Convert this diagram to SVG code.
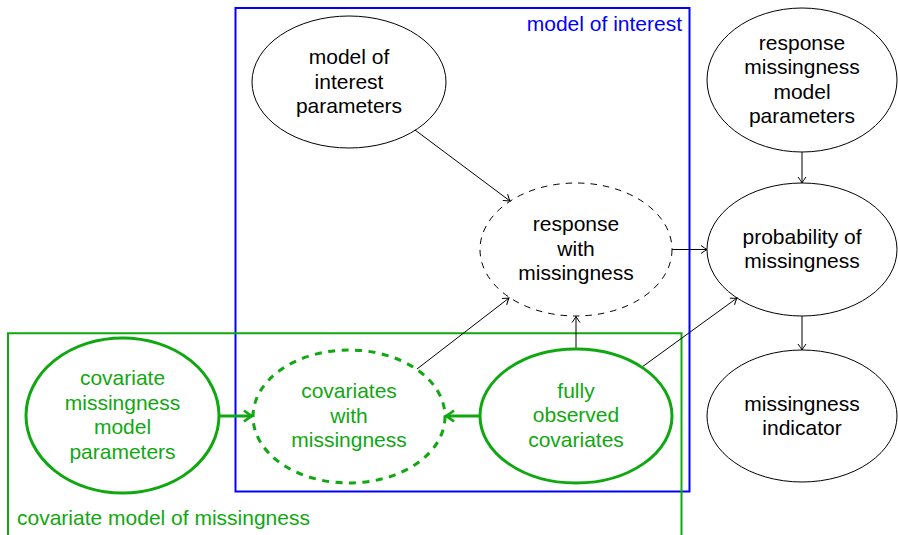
<svg xmlns="http://www.w3.org/2000/svg" width="898" height="535" viewBox="0 0 898 535">
  <style>
    text { font-family: "Liberation Sans", Arial, Helvetica, sans-serif; font-size: 21px; }
    .lbl { text-anchor: middle; fill: #000; }
    .glbl { text-anchor: middle; fill: #10a810; }
    .node { fill: none; stroke: #000; stroke-width: 1; }
    .dashed { stroke-dasharray: 6.5 6; }
    .gnode { fill: none; stroke: #10a810; stroke-width: 3; }
    .gdashed { stroke-dasharray: 7 6.5; }
    .edge { fill: none; stroke: #000; stroke-width: 1; marker-end: url(#arr); }
    .gedge { fill: none; stroke: #10a810; stroke-width: 3; marker-end: url(#garr); }
  </style>
  <defs>
    <marker id="arr" markerUnits="userSpaceOnUse" viewBox="-8 -6 10 12" refX="0" refY="0" markerWidth="10" markerHeight="12" orient="auto" overflow="visible">
      <path d="M-6,-4 Q-2,-1 0,0 Q-2,1 -6,4" fill="none" stroke="#000" stroke-width="1"/>
    </marker>
    <marker id="garr" markerUnits="userSpaceOnUse" viewBox="-10 -8 12 16" refX="0" refY="0" markerWidth="12" markerHeight="16" orient="auto" overflow="visible">
      <path d="M-8,-5.5 Q-3,-1.5 0,0 Q-3,1.5 -8,5.5" fill="none" stroke="#10a810" stroke-width="2.6"/>
    </marker>
  </defs>

  <!-- frames -->
  <g id="frame-model-of-interest">
    <rect x="235.5" y="8" width="454" height="483.5" fill="none" stroke="#0000ff" stroke-width="2"/>
    <text x="682" y="31" fill="#0000ff" text-anchor="end">model of interest</text>
  </g>
  <g id="frame-covariate-model">
    <path d="M8,540 V333.3 H681.5 V540" fill="none" stroke="#10a810" stroke-width="2"/>
    <text x="17" y="525" fill="#10a810">covariate model of missingness</text>
  </g>

  <!-- connectors -->
  <g id="connectors">
    <path class="edge" d="M415,130 L510,201"/>
    <path class="edge" d="M417,369 L509,298"/>
    <path class="edge" d="M576,349 L576,316.5"/>
    <path class="edge" d="M642,367 L737,298"/>
    <path class="edge" d="M672,249.5 L707,249.5"/>
    <path class="edge" d="M802,152 L802,183"/>
    <path class="edge" d="M802,316 L802,350"/>
    <path class="gedge" d="M219,416 L252,416"/>
    <path class="gedge" d="M480,416 L446,416"/>
  </g>

  <!-- nodes -->
  <g id="model-of-interest-parameters">
    <ellipse class="node" cx="349" cy="82" rx="97" ry="66"/>
    <text class="lbl"><tspan x="349" y="64">model of</tspan><tspan x="349" y="88.5">interest</tspan><tspan x="349" y="113">parameters</tspan></text>
  </g>
  <g id="response-missingness-model-parameters">
    <ellipse class="node" cx="802" cy="80" rx="95" ry="72"/>
    <text class="lbl"><tspan x="802" y="49.5">response</tspan><tspan x="802" y="74">missingness</tspan><tspan x="802" y="98.5">model</tspan><tspan x="802" y="123">parameters</tspan></text>
  </g>
  <g id="response-with-missingness">
    <ellipse class="node dashed" cx="576" cy="249.5" rx="96" ry="66.5"/>
    <text class="lbl"><tspan x="576" y="231">response</tspan><tspan x="576" y="255.5">with</tspan><tspan x="576" y="280">missingness</tspan></text>
  </g>
  <g id="probability-of-missingness">
    <ellipse class="node" cx="802" cy="249.5" rx="95" ry="66.5"/>
    <text class="lbl"><tspan x="802" y="243.5">probability of</tspan><tspan x="802" y="268">missingness</tspan></text>
  </g>
  <g id="missingness-indicator">
    <ellipse class="node" cx="802" cy="416" rx="95" ry="66"/>
    <text class="lbl"><tspan x="802" y="410.5">missingness</tspan><tspan x="802" y="435">indicator</tspan></text>
  </g>
  <g id="covariate-missingness-model-parameters">
    <ellipse class="gnode" cx="122.5" cy="415.5" rx="96.5" ry="77.5"/>
    <text class="glbl"><tspan x="122.5" y="385">covariate</tspan><tspan x="122.5" y="409.5">missingness</tspan><tspan x="122.5" y="434">model</tspan><tspan x="122.5" y="458.5">parameters</tspan></text>
  </g>
  <g id="covariates-with-missingness">
    <ellipse class="gnode gdashed" cx="349" cy="416.5" rx="96" ry="66.5"/>
    <text class="glbl"><tspan x="349" y="398">covariates</tspan><tspan x="349" y="422.5">with</tspan><tspan x="349" y="447">missingness</tspan></text>
  </g>
  <g id="fully-observed-covariates">
    <ellipse class="gnode" cx="576" cy="416" rx="96" ry="67"/>
    <text class="glbl"><tspan x="576" y="397.5">fully</tspan><tspan x="576" y="422">observed</tspan><tspan x="576" y="446.5">covariates</tspan></text>
  </g>
</svg>
